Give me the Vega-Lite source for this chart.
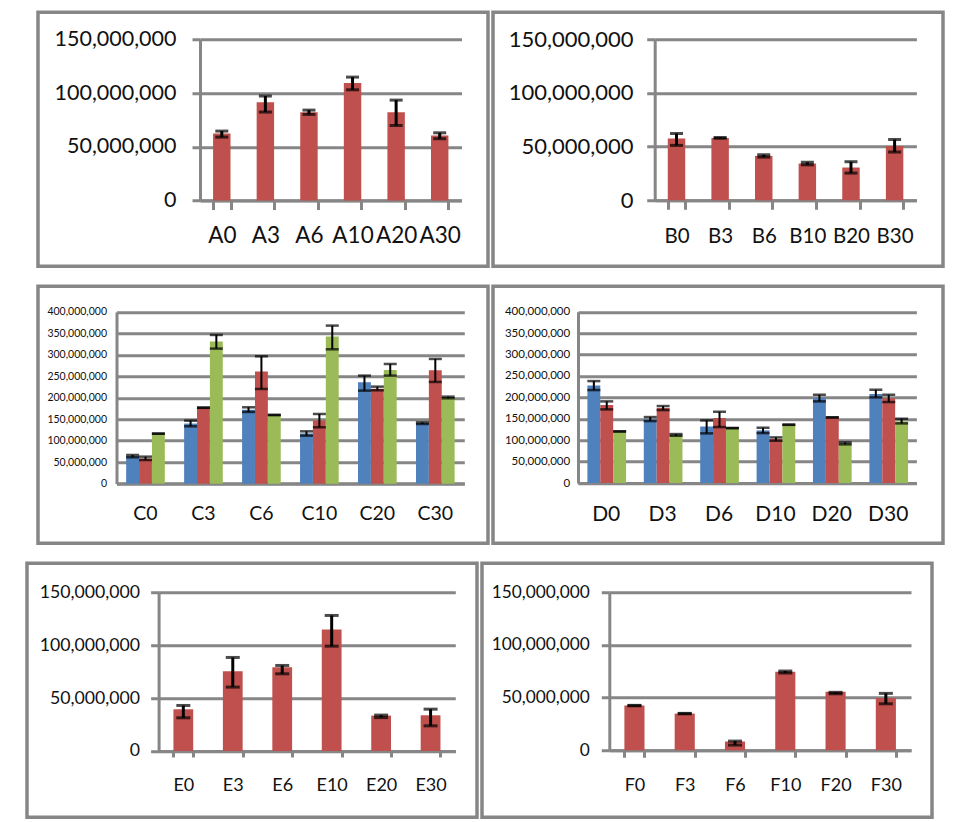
{
  "$schema": "https://vega.github.io/schema/vega-lite/v6.json",
  "background": "white",
  "padding": {"left": 25, "top": 10.25, "right": 0, "bottom": 0},
  "config": {
    "view": {"stroke": "#868686", "strokeWidth": 3.5},
    "axis": {"domainColor": "#868686", "domainWidth": 3, "tickColor": "#868686", "tickWidth": 3, "gridColor": "#868686", "gridWidth": 3, "labelFont": "Lato", "labelColor": "#111111", "labelOverlap": false, "labelBound": false, "labelFlush": false, "title": null},
    "concat": {"spacing": 1}
  },
  "datasets": {
    "A": [
      {"cat": "A0", "value": 62300000, "lo": 59000000, "hi": 64600000},
      {"cat": "A3", "value": 91400000, "lo": 82300000, "hi": 97200000},
      {"cat": "A6", "value": 82100000, "lo": 80100000, "hi": 84100000},
      {"cat": "A10", "value": 109400000, "lo": 103000000, "hi": 114800000},
      {"cat": "A20", "value": 82100000, "lo": 69800000, "hi": 93400000},
      {"cat": "A30", "value": 60400000, "lo": 57500000, "hi": 63000000}
    ],
    "B": [
      {"cat": "B0", "value": 57500000, "lo": 51100000, "hi": 62200000},
      {"cat": "B3", "value": 58100000, "lo": 57800000, "hi": 58400000},
      {"cat": "B6", "value": 41300000, "lo": 40200000, "hi": 42400000},
      {"cat": "B10", "value": 34200000, "lo": 33000000, "hi": 35400000},
      {"cat": "B20", "value": 30500000, "lo": 25300000, "hi": 35900000},
      {"cat": "B30", "value": 50600000, "lo": 44900000, "hi": 56600000}
    ],
    "C": [
      {"cat": "C0", "series": "s1", "value": 64000000, "lo": 61400000, "hi": 66800000},
      {"cat": "C0", "series": "s2", "value": 59000000, "lo": 55100000, "hi": 62900000},
      {"cat": "C0", "series": "s3", "value": 116500000, "lo": 116200000, "hi": 116800000},
      {"cat": "C3", "series": "s1", "value": 140000000, "lo": 133600000, "hi": 146800000},
      {"cat": "C3", "series": "s2", "value": 177000000, "lo": 176700000, "hi": 177300000},
      {"cat": "C3", "series": "s3", "value": 331000000, "lo": 314600000, "hi": 346400000},
      {"cat": "C6", "series": "s1", "value": 172000000, "lo": 167000000, "hi": 177900000},
      {"cat": "C6", "series": "s2", "value": 261000000, "lo": 220600000, "hi": 296700000},
      {"cat": "C6", "series": "s3", "value": 160000000, "lo": 159700000, "hi": 160300000},
      {"cat": "C10", "series": "s1", "value": 117000000, "lo": 111800000, "hi": 121900000},
      {"cat": "C10", "series": "s2", "value": 147000000, "lo": 131300000, "hi": 162300000},
      {"cat": "C10", "series": "s3", "value": 343000000, "lo": 313000000, "hi": 368200000},
      {"cat": "C20", "series": "s1", "value": 236000000, "lo": 216700000, "hi": 251700000},
      {"cat": "C20", "series": "s2", "value": 221000000, "lo": 217500000, "hi": 226000000},
      {"cat": "C20", "series": "s3", "value": 265000000, "lo": 251700000, "hi": 278800000},
      {"cat": "C30", "series": "s1", "value": 141000000, "lo": 139000000, "hi": 142900000},
      {"cat": "C30", "series": "s2", "value": 264000000, "lo": 236900000, "hi": 290500000},
      {"cat": "C30", "series": "s3", "value": 201000000, "lo": 198800000, "hi": 202700000}
    ],
    "D": [
      {"cat": "D0", "series": "s1", "value": 228000000, "lo": 217100000, "hi": 238100000},
      {"cat": "D0", "series": "s2", "value": 182000000, "lo": 172000000, "hi": 190700000},
      {"cat": "D0", "series": "s3", "value": 120600000, "lo": 120300000, "hi": 120900000},
      {"cat": "D3", "series": "s1", "value": 149000000, "lo": 144700000, "hi": 154100000},
      {"cat": "D3", "series": "s2", "value": 175000000, "lo": 170400000, "hi": 179800000},
      {"cat": "D3", "series": "s3", "value": 112000000, "lo": 110500000, "hi": 114400000},
      {"cat": "D6", "series": "s1", "value": 132000000, "lo": 116000000, "hi": 146300000},
      {"cat": "D6", "series": "s2", "value": 152000000, "lo": 130700000, "hi": 166500000},
      {"cat": "D6", "series": "s3", "value": 128400000, "lo": 128100000, "hi": 128700000},
      {"cat": "D10", "series": "s1", "value": 123000000, "lo": 116700000, "hi": 129200000},
      {"cat": "D10", "series": "s2", "value": 103000000, "lo": 98800000, "hi": 106600000},
      {"cat": "D10", "series": "s3", "value": 136200000, "lo": 135900000, "hi": 136500000},
      {"cat": "D20", "series": "s1", "value": 199000000, "lo": 190700000, "hi": 206200000},
      {"cat": "D20", "series": "s2", "value": 153300000, "lo": 153000000, "hi": 153600000},
      {"cat": "D20", "series": "s3", "value": 92500000, "lo": 90300000, "hi": 94900000},
      {"cat": "D30", "series": "s1", "value": 208000000, "lo": 200000000, "hi": 217900000},
      {"cat": "D30", "series": "s2", "value": 198000000, "lo": 189100000, "hi": 206200000},
      {"cat": "D30", "series": "s3", "value": 144000000, "lo": 139300000, "hi": 150200000}
    ],
    "E": [
      {"cat": "E0", "value": 39500000, "lo": 31400000, "hi": 43100000},
      {"cat": "E3", "value": 75500000, "lo": 60500000, "hi": 88600000},
      {"cat": "E6", "value": 79300000, "lo": 73100000, "hi": 81000000},
      {"cat": "E10", "value": 115000000, "lo": 99300000, "hi": 128400000},
      {"cat": "E20", "value": 33500000, "lo": 31600000, "hi": 34000000},
      {"cat": "E30", "value": 33800000, "lo": 23800000, "hi": 39600000}
    ],
    "F": [
      {"cat": "F0", "value": 42400000, "lo": 42200000, "hi": 42600000},
      {"cat": "F3", "value": 34800000, "lo": 34600000, "hi": 35000000},
      {"cat": "F6", "value": 8200000, "lo": 4900000, "hi": 8700000},
      {"cat": "F10", "value": 74500000, "lo": 73300000, "hi": 75200000},
      {"cat": "F20", "value": 55500000, "lo": 53600000, "hi": 55000000},
      {"cat": "F30", "value": 49500000, "lo": 44100000, "hi": 54000000}
    ]
  },
  "vconcat": [
    {
      "hconcat": [
        {"width": 8, "height": 10, "data": {"values": []}, "mark": "point", "view": {"stroke": null}},
        {
          "vconcat": [
            {
              "hconcat": [
                {
                  "width": 450, "height": 254,
                  "data": {"name": "A"},
                  "encoding": {
                    "x": {"field": "cat", "type": "nominal", "scale": {"domain": ["A0", "A3", "A6", "A10", "A20", "A30"], "range": [162, 423.5], "paddingInner": 0.6, "paddingOuter": 0.3},
                      "axis": {"offset": -65.7, "tickBand": "extent", "tickSize": 9, "labelPadding": 25.7, "labelBaseline": "middle", "labelAngle": 0, "labelFontSize": 22.5, "grid": false}},
                    "y": {"field": "value", "type": "quantitative", "scale": {"domain": [0, 150000000], "range": [188.3, 27], "nice": false},
                      "axis": {"offset": -162, "values": [0, 50000000, 100000000, 150000000], "format": ",.0f", "tickSize": 8, "labelPadding": 16, "labelFontSize": 21.5, "grid": true}}
                  },
                  "layer": [
                    {"mark": {"type": "bar", "color": "#C0504D"}},
                    {"mark": {"type": "rule", "color": "black", "strokeWidth": 3}, "encoding": {"y": {"field": "lo", "type": "quantitative", "title": null}, "y2": {"field": "hi"}}},
                    {"mark": {"type": "tick", "color": "black", "thickness": 3, "size": 13}, "encoding": {"y": {"field": "lo", "type": "quantitative", "title": null}}},
                    {"mark": {"type": "tick", "color": "black", "thickness": 3, "size": 13}, "encoding": {"y": {"field": "hi", "type": "quantitative", "title": null}}}
                  ]
                },
                {
                  "width": 450, "height": 254,
                  "data": {"name": "B"},
                  "encoding": {
                    "x": {"field": "cat", "type": "nominal", "scale": {"domain": ["B0", "B3", "B6", "B10", "B20", "B30"], "range": [161.7, 423.4], "paddingInner": 0.6, "paddingOuter": 0.3},
                      "axis": {"offset": -66, "tickBand": "extent", "tickSize": 9, "labelPadding": 27, "labelBaseline": "middle", "labelAngle": 0, "labelFontSize": 20.5, "grid": false}},
                    "y": {"field": "value", "type": "quantitative", "scale": {"domain": [0, 150000000], "range": [188, 27], "nice": false},
                      "axis": {"offset": -161.7, "values": [0, 50000000, 100000000, 150000000], "format": ",.0f", "tickSize": 8, "labelPadding": 13.7, "labelFontSize": 22, "grid": true}}
                  },
                  "layer": [
                    {"mark": {"type": "bar", "color": "#C0504D"}},
                    {"mark": {"type": "rule", "color": "black", "strokeWidth": 3}, "encoding": {"y": {"field": "lo", "type": "quantitative", "title": null}, "y2": {"field": "hi"}}},
                    {"mark": {"type": "tick", "color": "black", "thickness": 3, "size": 13}, "encoding": {"y": {"field": "lo", "type": "quantitative", "title": null}}},
                    {"mark": {"type": "tick", "color": "black", "thickness": 3, "size": 13}, "encoding": {"y": {"field": "hi", "type": "quantitative", "title": null}}}
                  ]
                }
              ]
            },
            {
              "hconcat": [
                {
                  "width": 450, "height": 257,
                  "data": {"name": "C"},
                  "encoding": {
                    "x": {"field": "cat", "type": "nominal", "scale": {"domain": ["C0", "C3", "C6", "C10", "C20", "C30"], "range": [78.5, 426.3], "paddingInner": 0.333, "paddingOuter": 0.1667},
                      "axis": {"offset": -59.6, "ticks": false, "tickSize": 0, "labelPadding": 30.3, "labelBaseline": "middle", "labelAngle": 0, "labelFontSize": 19.5, "grid": false}},
                    "xOffset": {"field": "series", "type": "nominal", "scale": {"domain": ["s1", "s2", "s3"], "paddingInner": 0, "paddingOuter": 0}},
                    "y": {"field": "value", "type": "quantitative", "scale": {"domain": [0, 400000000], "range": [197.4, 25.7], "nice": false},
                      "axis": {"offset": -78.5, "values": [0, 50000000, 100000000, 150000000, 200000000, 250000000, 300000000, 350000000, 400000000], "format": ",.0f", "ticks": false, "tickSize": 0, "labelPadding": 10, "labelFontSize": 10.5, "grid": true}}
                  },
                  "layer": [
                    {"mark": {"type": "bar"}, "encoding": {"color": {"field": "series", "type": "nominal", "scale": {"domain": ["s1", "s2", "s3"], "range": ["#4F81BD", "#C0504D", "#9BBB59"]}, "legend": null}}},
                    {"mark": {"type": "rule", "color": "black", "strokeWidth": 2}, "encoding": {"y": {"field": "lo", "type": "quantitative", "title": null}, "y2": {"field": "hi"}}},
                    {"mark": {"type": "tick", "color": "black", "thickness": 2.5, "size": 13}, "encoding": {"y": {"field": "lo", "type": "quantitative", "title": null}}},
                    {"mark": {"type": "tick", "color": "black", "thickness": 2.5, "size": 13}, "encoding": {"y": {"field": "hi", "type": "quantitative", "title": null}}}
                  ]
                },
                {
                  "width": 450, "height": 257,
                  "data": {"name": "D"},
                  "encoding": {
                    "x": {"field": "cat", "type": "nominal", "scale": {"domain": ["D0", "D3", "D6", "D10", "D20", "D30"], "range": [85, 423.4], "paddingInner": 0.333, "paddingOuter": 0.1667},
                      "axis": {"offset": -60.2, "ticks": false, "tickSize": 0, "labelPadding": 31, "labelBaseline": "middle", "labelAngle": 0, "labelFontSize": 21, "grid": false}},
                    "xOffset": {"field": "series", "type": "nominal", "scale": {"domain": ["s1", "s2", "s3"], "paddingInner": 0, "paddingOuter": 0}},
                    "y": {"field": "value", "type": "quantitative", "scale": {"domain": [0, 400000000], "range": [196.8, 25.5], "nice": false},
                      "axis": {"offset": -85, "values": [0, 50000000, 100000000, 150000000, 200000000, 250000000, 300000000, 350000000, 400000000], "format": ",.0f", "ticks": false, "tickSize": 0, "labelPadding": 8.3, "labelFontSize": 11.5, "grid": true}}
                  },
                  "layer": [
                    {"mark": {"type": "bar"}, "encoding": {"color": {"field": "series", "type": "nominal", "scale": {"domain": ["s1", "s2", "s3"], "range": ["#4F81BD", "#C0504D", "#9BBB59"]}, "legend": null}}},
                    {"mark": {"type": "rule", "color": "black", "strokeWidth": 2}, "encoding": {"y": {"field": "lo", "type": "quantitative", "title": null}, "y2": {"field": "hi"}}},
                    {"mark": {"type": "tick", "color": "black", "thickness": 2.5, "size": 13}, "encoding": {"y": {"field": "lo", "type": "quantitative", "title": null}}},
                    {"mark": {"type": "tick", "color": "black", "thickness": 2.5, "size": 13}, "encoding": {"y": {"field": "hi", "type": "quantitative", "title": null}}}
                  ]
                }
              ]
            }
          ],
          "spacing": 16
        }
      ]
    },
    {
      "hconcat": [
        {
          "width": 450, "height": 254,
          "data": {"name": "E"},
          "encoding": {
            "x": {"field": "cat", "type": "nominal", "scale": {"domain": ["E0", "E3", "E6", "E10", "E20", "E30"], "range": [131.6, 428.3], "paddingInner": 0.6, "paddingOuter": 0.3},
              "axis": {"offset": -66.3, "tickBand": "extent", "tickSize": 6, "labelPadding": 28.7, "labelBaseline": "middle", "labelAngle": 0, "labelFontSize": 18, "grid": false}},
            "y": {"field": "value", "type": "quantitative", "scale": {"domain": [0, 150000000], "range": [187.7, 29.4], "nice": false},
              "axis": {"offset": -131.6, "values": [0, 50000000, 100000000, 150000000], "format": ",.0f", "tickSize": 8, "labelPadding": 11, "labelFontSize": 17.7, "grid": true}}
          },
          "layer": [
            {"mark": {"type": "bar", "color": "#C0504D"}},
            {"mark": {"type": "rule", "color": "black", "strokeWidth": 3}, "encoding": {"y": {"field": "lo", "type": "quantitative", "title": null}, "y2": {"field": "hi"}}},
            {"mark": {"type": "tick", "color": "black", "thickness": 3, "size": 14}, "encoding": {"y": {"field": "lo", "type": "quantitative", "title": null}}},
            {"mark": {"type": "tick", "color": "black", "thickness": 3, "size": 14}, "encoding": {"y": {"field": "hi", "type": "quantitative", "title": null}}}
          ]
        },
        {
          "width": 450, "height": 254,
          "data": {"name": "F"},
          "encoding": {
            "x": {"field": "cat", "type": "nominal", "scale": {"domain": ["F0", "F3", "F6", "F10", "F20", "F30"], "range": [127.3, 429], "paddingInner": 0.6, "paddingOuter": 0.3},
              "axis": {"offset": -67, "tickBand": "extent", "tickSize": 7, "labelPadding": 28.4, "labelBaseline": "middle", "labelAngle": 0, "labelFontSize": 18, "grid": false}},
            "y": {"field": "value", "type": "quantitative", "scale": {"domain": [0, 150000000], "range": [187, 29], "nice": false},
              "axis": {"offset": -127.3, "values": [0, 50000000, 100000000, 150000000], "format": ",.0f", "tickSize": 8, "labelPadding": 12, "labelFontSize": 17.3, "grid": true}}
          },
          "layer": [
            {"mark": {"type": "bar", "color": "#C0504D"}},
            {"mark": {"type": "rule", "color": "black", "strokeWidth": 3}, "encoding": {"y": {"field": "lo", "type": "quantitative", "title": null}, "y2": {"field": "hi"}}},
            {"mark": {"type": "tick", "color": "black", "thickness": 3, "size": 14}, "encoding": {"y": {"field": "lo", "type": "quantitative", "title": null}}},
            {"mark": {"type": "tick", "color": "black", "thickness": 3, "size": 14}, "encoding": {"y": {"field": "hi", "type": "quantitative", "title": null}}}
          ]
        }
      ]
    }
  ],
  "spacing": 16
}
